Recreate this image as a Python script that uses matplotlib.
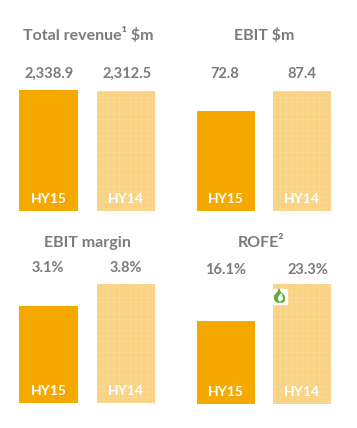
import matplotlib
matplotlib.use("Agg")
import matplotlib.pyplot as plt
from matplotlib.patches import Polygon, Rectangle

W, H = 357, 428

CATEGORIES = ["HY15", "HY14"]
TITLES = ["Total revenue¹ $m", "EBIT $m", "EBIT margin", "ROFE²"]
REVENUE = [2338.9, 2312.5]
EBIT = [72.8, 87.4]
MARGIN = [3.1, 3.8]
ROFE = [16.1, 23.3]
REVENUE_LABELS = ["2,338.9", "2,312.5"]
EBIT_LABELS = ["72.8", "87.4"]
MARGIN_LABELS = ["3.1%", "3.8%"]
ROFE_LABELS = ["16.1%", "23.3%"]

GREY = "#7b7b7b"
SOLID = "#f5a800"
PALE = "#f9d383"

plt.rcParams["font.family"] = ["Lato", "DejaVu Sans"]
plt.rcParams["hatch.linewidth"] = 0.4

# left, right, top of tallest bar, baseline (pixels), title x/y, value-label y
PANELS = [
    (REVENUE, REVENUE_LABELS, TITLES[0], 19, 155.5, 90, 211, 88, 35, 74, [49, 127]),
    (EBIT, EBIT_LABELS, TITLES[1], 197, 331, 91, 211, 264, 35, 74, [225, 302]),
    (MARGIN, MARGIN_LABELS, TITLES[2], 19, 155.5, 284, 403, 87, 243, 268, [48, 126]),
    (ROFE, ROFE_LABELS, TITLES[3], 197, 331, 284, 404, 261, 243, 270, [226, 308]),
]


def fx(px):
    return px / W


def fy(px):
    return 1 - px / H


fig = plt.figure(figsize=(W / 100, H / 100), dpi=100, facecolor="white")

for vals, labels, title, left, right, top, base, tx, ty, vy, vxs in PANELS:
    ax = fig.add_axes([fx(left), fy(base), (right - left) / W, (base - top) / H])
    ax.bar(0, vals[0], 0.76, color=SOLID)
    ax.bar(1, vals[1], 0.76, color=PALE, hatch="+++", edgecolor="#fadb9a", linewidth=0)
    ax.set_xlim(-0.38, 1.38)
    ax.set_ylim(0, max(vals))
    ax.axis("off")

    for i, cat in enumerate(CATEGORIES):
        ax.annotate(cat, (i, 0), xytext=(0, 4), textcoords="offset points",
                    ha="center", va="bottom", color="white",
                    fontsize=10, fontweight="bold")

    fig.text(fx(tx), fy(ty), title, ha="center", va="center", color=GREY,
             fontsize=11.5, fontweight="bold")
    for vx, lab in zip(vxs, labels):
        fig.text(fx(vx), fy(vy), lab, ha="center", va="center", color=GREY,
                 fontsize=10.5, fontweight="bold")

# small green flame badge on the ROFE HY14 bar
fig.add_artist(Rectangle((fx(273), fy(304)), 14 / W, 15 / H, color="white",
                         transform=fig.transFigure))
flame = [(275, 300), (274.5, 296), (278, 292), (279, 289), (280, 292), (284, 296), (284.5, 300), (283, 302), (277, 302)]
fig.add_artist(Polygon([(fx(x), fy(y)) for x, y in flame], color="#5fae3a",
                       transform=fig.transFigure))
hole = [(279.5, 301), (278.5, 298), (281, 294), (282.5, 299)]
fig.add_artist(Polygon([(fx(x), fy(y)) for x, y in hole], color="white",
                       transform=fig.transFigure))

fig.savefig("out.png", dpi=100)
plt.close()
